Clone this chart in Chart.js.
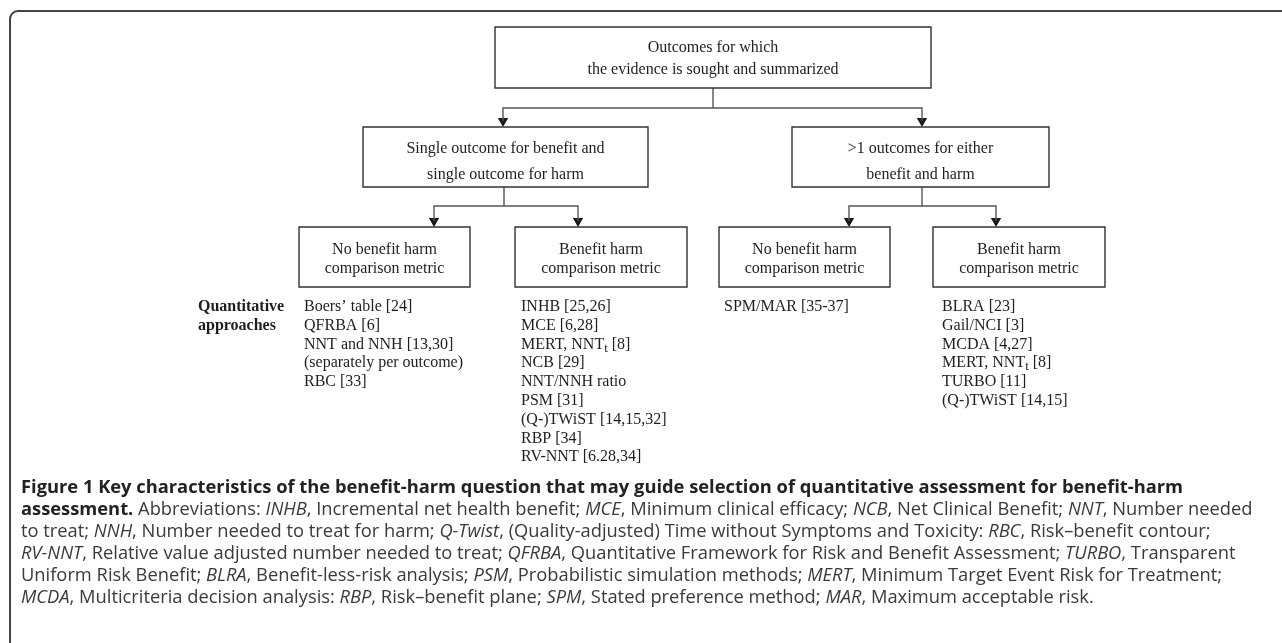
<!DOCTYPE html>
<html><head><meta charset="utf-8">
<script src="https://cdn.jsdelivr.net/npm/chart.js@4.4.1/dist/chart.umd.min.js"></script>
<style>html,body{margin:0;padding:0;background:#fff;overflow:hidden}canvas{display:block}</style>
</head><body><canvas id="c" width="1282" height="643"></canvas>
<script>
// ---------------- data (text content) ----------------
const rootLabel = ["Outcomes for which", "the evidence is sought and summarized"];
const outcomeLabels = [
  ["Single outcome for benefit and", "single outcome for harm"],
  [">1 outcomes for either", "benefit and harm"]
];
const metricLabels = [
  ["No benefit harm", "comparison metric"],
  ["Benefit harm", "comparison metric"],
  ["No benefit harm", "comparison metric"],
  ["Benefit harm", "comparison metric"]
];
const rowHeader = ["Quantitative", "approaches"];
const singleNoMetric = ["Boers\u2019 table [24]", "QFRBA [6]", "NNT and NNH [13,30]", "(separately per outcome)", "RBC [33]"];
const singleMetric = ["INHB [25,26]", "MCE [6,28]", "MERT, NNT{t} [8]", "NCB [29]", "NNT/NNH ratio", "PSM [31]", "(Q-)TWiST [14,15,32]", "RBP [34]", "RV-NNT [6.28,34]"];
const multiNoMetric = ["SPM/MAR [35-37]"];
const multiMetric = ["BLRA [23]", "Gail/NCI [3]", "MCDA [4,27]", "MERT, NNT{t} [8]", "TURBO [11]", "(Q-)TWiST [14,15]"];
const captionLines = [
  "**Figure 1 Key characteristics of the benefit-harm question that may guide selection of quantitative assessment for benefit-harm**",
  "**assessment.** Abbreviations: _INHB_, Incremental net health benefit; _MCE_, Minimum clinical efficacy; _NCB_, Net Clinical Benefit; _NNT_, Number needed",
  "to treat; _NNH_, Number needed to treat for harm; _Q-Twist_, (Quality-adjusted) Time without Symptoms and Toxicity: _RBC_, Risk\u2013benefit contour;",
  "_RV-NNT_, Relative value adjusted number needed to treat; _QFRBA_, Quantitative Framework for Risk and Benefit Assessment; _TURBO_, Transparent",
  "Uniform Risk Benefit; _BLRA_, Benefit-less-risk analysis; _PSM_, Probabilistic simulation methods; _MERT_, Minimum Target Event Risk for Treatment;",
  "_MCDA_, Multicriteria decision analysis: _RBP_, Risk\u2013benefit plane; _SPM_, Stated preference method; _MAR_, Maximum acceptable risk."
];

// ---------------- layout (positions / styles) ----------------
const W = 1282, H = 643;
const rootBox = {l: 495, t: 27, r: 931, b: 88, base: [52, 74]};
const outcomeBoxes = [
  {l: 363, t: 127, r: 648, b: 187, base: [153, 179]},
  {l: 792, t: 127, r: 1049, b: 187, base: [153, 179]}
];
const metricBoxes = [
  {l: 299, t: 227, r: 470, b: 287},
  {l: 515, t: 227, r: 687, b: 287},
  {l: 719, t: 227, r: 890, b: 287},
  {l: 933, t: 227, r: 1105, b: 287}
];
const metricBase = [254, 273];
const rootStemX = 713, rootBarY = 108, rootArrowX = [503, 922];
const outStemX = [504, 922], outBarY = 206, outArrowX = [[434, 578], [849, 996]];
const listX = [304, 521, 724, 942], headerX = 198, listBase0 = 311, listStep = 18.8;
const capX = 21, capBase0 = 493, capStep = 22, capTargetW = 1232;
const arrowR = 6;
const SERIF = "'Liberation Serif', 'Times New Roman', serif";
const SANS = "'Open Sans', 'Noto Sans', sans-serif";
const INK = '#1e1e1e', LINE = '#333333', CAP = '#3a3a3a';

// ---------------- datasets built from layout ----------------
const allBoxes = [rootBox, ...outcomeBoxes, ...metricBoxes];
const boxPts = [];
allBoxes.forEach(b => {
  boxPts.push({x: b.l, y: b.t}, {x: b.r, y: b.t}, {x: b.r, y: b.b}, {x: b.l, y: b.b}, {x: b.l, y: b.t}, {x: b.l, y: null});
});
const connPts = [];
const arrowPts = [];
connPts.push({x: rootStemX, y: rootBox.b}, {x: rootStemX, y: rootBarY}, {x: rootStemX, y: null});
connPts.push({x: rootArrowX[0], y: outcomeBoxes[0].t - arrowR}, {x: rootArrowX[0], y: rootBarY},
             {x: rootArrowX[1], y: rootBarY}, {x: rootArrowX[1], y: outcomeBoxes[1].t - arrowR}, {x: 0, y: null});
rootArrowX.forEach((x, i) => arrowPts.push({x: x, y: outcomeBoxes[i].t - arrowR}));
outcomeBoxes.forEach((b, i) => {
  connPts.push({x: outStemX[i], y: b.b}, {x: outStemX[i], y: outBarY}, {x: 0, y: null});
  const [a1, a2] = outArrowX[i];
  const tgt = metricBoxes[i * 2].t;
  connPts.push({x: a1, y: tgt - arrowR}, {x: a1, y: outBarY}, {x: a2, y: outBarY}, {x: a2, y: tgt - arrowR}, {x: 0, y: null});
  arrowPts.push({x: a1, y: tgt - arrowR}, {x: a2, y: tgt - arrowR});
});

// ---------------- text helpers ----------------
function drawSubText(ctx, s, x, y, size) {
  const parts = s.split(/\{(.*?)\}/);
  let cx = x;
  parts.forEach((p, i) => {
    if (!p) return;
    if (i % 2 === 1) {
      ctx.font = `${size * 0.8}px ${SERIF}`;
      ctx.fillText(p, cx, y + 3);
    } else {
      ctx.font = `${size}px ${SERIF}`;
      ctx.fillText(p, cx, y);
    }
    cx += ctx.measureText(p).width;
  });
}
function parseRich(s) {
  const segs = [];
  const re = /(\*\*[^*]+\*\*|_[^_]+_)/g;
  let last = 0, m;
  while ((m = re.exec(s))) {
    if (m.index > last) segs.push(['n', s.slice(last, m.index)]);
    if (m[0].startsWith('**')) segs.push(['b', m[0].slice(2, -2)]);
    else segs.push(['i', m[0].slice(1, -1)]);
    last = re.lastIndex;
  }
  if (last < s.length) segs.push(['n', s.slice(last)]);
  return segs;
}
function capFont(style, size) {
  if (style === 'b') return `bold ${size}px ${SANS}`;
  if (style === 'i') return `italic ${size}px ${SANS}`;
  return `${size}px ${SANS}`;
}
function richWidth(ctx, segs, size) {
  let w = 0;
  segs.forEach(([st, t]) => { ctx.font = capFont(st, size); w += ctx.measureText(t).width; });
  return w;
}

const framePlugin = {
  id: 'frame',
  beforeDatasetsDraw(chart) {
    const ctx = chart.ctx, xs = chart.scales.x, ys = chart.scales.y;
    ctx.save();
    ctx.strokeStyle = '#444';
    ctx.lineWidth = 2;
    const x0 = xs.getPixelForValue(10), y0 = ys.getPixelForValue(11);
    ctx.beginPath();
    ctx.moveTo(x0, ys.getPixelForValue(H + 2));
    ctx.lineTo(x0, y0 + 8);
    ctx.arcTo(x0, y0, x0 + 8, y0, 8);
    ctx.lineTo(xs.getPixelForValue(W + 2), y0);
    ctx.stroke();
    ctx.restore();
  }
};

const textPlugin = {
  id: 'texts',
  afterDatasetsDraw(chart) {
    const ctx = chart.ctx, xs = chart.scales.x, ys = chart.scales.y;
    const px = v => xs.getPixelForValue(v), py = v => ys.getPixelForValue(v);
    ctx.save();
    ctx.fillStyle = INK;
    ctx.textBaseline = 'alphabetic';
    ctx.textAlign = 'center';
    ctx.font = `16px ${SERIF}`;
    const cx = b => px((b.l + b.r) / 2);
    rootLabel.forEach((t, i) => ctx.fillText(t, cx(rootBox), py(rootBox.base[i])));
    outcomeLabels.forEach((lines, j) => lines.forEach((t, i) => ctx.fillText(t, cx(outcomeBoxes[j]), py(outcomeBoxes[j].base[i]))));
    metricLabels.forEach((lines, j) => lines.forEach((t, i) => ctx.fillText(t, cx(metricBoxes[j]), py(metricBase[i]))));
    ctx.textAlign = 'left';
    ctx.font = `bold 16px ${SERIF}`;
    rowHeader.forEach((t, i) => ctx.fillText(t, px(headerX), py(listBase0 + i * listStep)));
    [singleNoMetric, singleMetric, multiNoMetric, multiMetric].forEach((list, c) => {
      list.forEach((t, i) => drawSubText(ctx, t, px(listX[c]), py(listBase0 + i * listStep), 16));
    });
    const parsed = captionLines.map(parseRich);
    const size = 15 * capTargetW / richWidth(ctx, parsed[1], 15);
    parsed.forEach((segs, li) => {
      let x = px(capX);
      const y = py(capBase0 + li * capStep);
      segs.forEach(([st, t]) => {
        ctx.font = capFont(st, size);
        ctx.fillStyle = st === 'b' ? '#222' : CAP;
        ctx.fillText(t, x, y);
        x += ctx.measureText(t).width;
      });
    });
    ctx.restore();
  }
};

new Chart(document.getElementById('c'), {
  type: 'scatter',
  data: {
    datasets: [
      {data: boxPts, showLine: true, spanGaps: false, borderColor: LINE, borderWidth: 1.4, pointRadius: 0,
       borderJoinStyle: 'miter', borderCapStyle: 'square', tension: 0, fill: false},
      {data: connPts, showLine: true, spanGaps: false, borderColor: '#555', borderWidth: 1.4, pointRadius: 0,
       borderJoinStyle: 'miter', borderCapStyle: 'butt', tension: 0, fill: false},
      {data: arrowPts, showLine: false, pointStyle: 'triangle', rotation: 180, pointRadius: arrowR,
       backgroundColor: '#1a1a1a', borderColor: '#1a1a1a', borderWidth: 0}
    ]
  },
  options: {
    responsive: false, animation: false, devicePixelRatio: 1, events: [],
    layout: {padding: 0, autoPadding: false},
    plugins: {legend: {display: false}, tooltip: {enabled: false}},
    scales: {
      x: {type: 'linear', min: 0, max: W, display: false},
      y: {type: 'linear', min: 0, max: H, reverse: true, display: false}
    }
  },
  plugins: [framePlugin, textPlugin]
});
</script></body></html>
